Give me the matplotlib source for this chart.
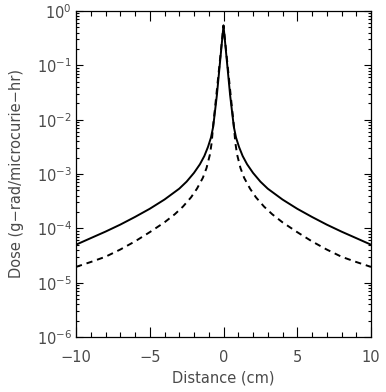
import numpy as np
import matplotlib
matplotlib.use("Agg")
import matplotlib.pyplot as plt
from matplotlib.ticker import LogLocator, MultipleLocator, FixedLocator, NullFormatter

# distance (cm) and dose
dist_solid = [-10, -9, -8, -7, -6, -5, -4, -3, -2.5, -2, -1.6, -1.3, -1.05, -0.85,
              -0.7, -0.45, 0,
              0.45, 0.7, 0.85, 1.05, 1.3, 1.6, 2, 2.5, 3, 4, 5, 6, 7, 8, 9, 10]
dose_solid = [5.0e-5, 6.6e-5, 8.7e-5, 1.17e-4, 1.62e-4, 2.29e-4, 3.39e-4, 5.37e-4,
              7.24e-4, 1.05e-3, 1.51e-3, 2.14e-3, 3.16e-3, 4.68e-3, 7.41e-3, 2.8e-2,
              0.54,
              2.8e-2, 7.41e-3, 4.68e-3, 3.16e-3, 2.14e-3, 1.51e-3, 1.05e-3, 7.24e-4,
              5.37e-4, 3.39e-4, 2.29e-4, 1.62e-4, 1.17e-4, 8.7e-5, 6.6e-5, 5.0e-5]

dist_dash = [-10, -9, -8, -7, -6, -5, -4, -3.3, -2.75, -2.2, -1.8, -1.4, -1.15,
             -0.92, -0.8, -0.7, -0.6, 0,
             0.6, 0.7, 0.8, 0.92, 1.15, 1.4, 1.8, 2.2, 2.75, 3.3, 4, 5, 6, 7, 8, 9, 10]
dose_dash = [1.95e-5, 2.4e-5, 3.0e-5, 4.07e-5, 5.75e-5, 8.5e-5, 1.29e-4, 1.82e-4,
             2.51e-4, 3.72e-4, 5.37e-4, 8.5e-4, 1.29e-3, 2.29e-3, 3.8e-3, 7.9e-3,
             1.41e-2, 0.54,
             1.41e-2, 7.9e-3, 3.8e-3, 2.29e-3, 1.29e-3, 8.5e-4, 5.37e-4, 3.72e-4,
             2.51e-4, 1.82e-4, 1.29e-4, 8.5e-5, 5.75e-5, 4.07e-5, 3.0e-5, 2.4e-5, 1.95e-5]

xticks = [-10, -5, 0, 5, 10]
xlabels = ["\u221210", "\u22125", "0", "5", "10"]

txt = "#4a4a4a"
fig = plt.figure(figsize=(3.86, 3.92), dpi=100)
ax = fig.add_axes([76 / 386, 55 / 392, 295 / 386, 326 / 392])

ax.semilogy(dist_solid, dose_solid, color="black", linewidth=1.4)
ax.semilogy(dist_dash, dose_dash, color="black", linewidth=1.4,
            linestyle=(0, (3.2, 2.5)))

ax.set_xlim(-10, 10)
ax.set_ylim(1e-6, 1)
ax.xaxis.set_major_locator(FixedLocator(xticks))
ax.set_xticklabels(xlabels)
ax.xaxis.set_minor_locator(MultipleLocator(1))
ax.xaxis.set_minor_formatter(NullFormatter())
ax.yaxis.set_major_locator(LogLocator(base=10, numticks=10))
ax.yaxis.set_minor_locator(LogLocator(base=10, subs=np.arange(2, 10), numticks=10))
ax.yaxis.set_minor_formatter(NullFormatter())

ax.tick_params(which="both", direction="in", top=True, right=True,
               colors="black", labelcolor=txt, labelsize=10.5, width=0.8)
ax.tick_params(axis="x", which="major", length=7, pad=9)
ax.tick_params(axis="x", which="minor", length=3.5)
ax.tick_params(axis="y", which="major", length=5, pad=3)
ax.tick_params(axis="y", which="minor", length=2.5)
for s in ax.spines.values():
    s.set_linewidth(0.9)

ax.set_xlabel("Distance (cm)", color=txt, fontsize=10.5, labelpad=4)
ax.set_ylabel("Dose (g\u2212rad/microcurie\u2212hr)", color=txt, fontsize=10.5,
              labelpad=9)

fig.savefig("out.png", dpi=100)
